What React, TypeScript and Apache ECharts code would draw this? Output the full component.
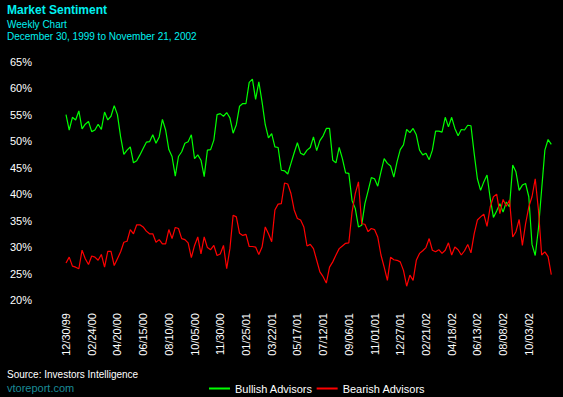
import React, { useEffect, useRef } from "react";
import * as echarts from "echarts";

const START_DATE = "1999-12-30";
const WEEKS = 152;

const bullish: number[] = [
  55.0, 52.1, 54.5, 54.0, 55.7, 52.3, 53.2, 53.7, 51.8, 52.1,
  53.2, 52.2, 55.5, 54.0, 54.7, 56.7, 55.0, 50.8, 47.5, 48.3,
  48.9, 45.9, 46.3, 47.4, 48.6, 49.8, 49.9, 51.2, 49.6, 50.8,
  54.1, 52.1, 48.4, 47.1, 43.4, 47.1, 48.0, 49.6, 49.9, 51.2,
  46.7, 47.4, 46.4, 43.3, 48.3, 48.4, 50.2, 55.0, 55.2, 54.7,
  55.4, 54.4, 51.5, 53.1, 56.6, 57.1, 57.1, 61.1, 61.7, 57.9,
  61.2, 57.4, 53.1, 50.6, 51.4, 48.9, 48.8, 44.5, 44.4, 43.8,
  45.8, 47.8, 49.7, 47.7, 47.4, 48.3, 48.8, 50.8, 48.2, 50.1,
  51.0, 52.4, 52.4, 46.4, 45.9, 48.8, 46.7, 44.0, 43.9, 38.8,
  37.3, 33.8, 34.1, 38.2, 40.6, 43.1, 42.9, 41.5, 44.2, 46.7,
  45.8, 45.3, 43.2, 46.1, 48.4, 49.3, 52.2, 51.6, 52.4, 51.2,
  48.3, 47.4, 47.7, 46.5, 48.3, 51.9, 51.9, 51.7, 54.5, 52.7,
  54.5, 52.4, 51.0, 52.2, 52.1, 53.0, 52.9, 47.7, 42.9, 40.7,
  42.3, 43.6, 39.2, 35.6, 36.8, 38.2, 36.6, 38.5, 37.6, 45.5,
  44.2, 40.7, 41.7, 42.0, 39.5, 30.5, 28.4, 33.5, 40.9, 48.3,
  50.3, 49.4,
];

const bearish: number[] = [
  27.0, 28.1, 26.4, 26.2, 25.9, 29.4, 27.8, 26.7, 28.3, 28.1,
  27.5, 28.6, 26.2, 29.2, 29.2, 26.5, 27.8, 29.1, 30.9, 31.1,
  33.3, 32.5, 34.2, 34.2, 33.8, 33.0, 32.5, 32.5, 30.9, 31.4,
  30.6, 30.6, 33.3, 31.6, 33.7, 33.5, 31.6, 31.4, 30.8, 28.0,
  30.3, 31.9, 28.7, 31.9, 29.9, 29.5, 30.3, 28.4, 28.7, 30.3,
  25.9, 29.7, 36.0, 35.7, 32.6, 32.2, 32.4, 30.1, 30.1, 30.0,
  28.6, 30.0, 33.8, 32.5, 31.0, 37.0, 38.1, 38.2, 42.1, 41.9,
  40.1, 37.0, 35.4, 35.1, 33.8, 30.2, 30.5, 29.7, 27.5, 25.3,
  24.4, 23.2, 26.2, 27.2, 28.5, 29.7, 30.2, 30.7, 30.8, 36.6,
  40.1, 42.3, 34.4, 34.3, 32.9, 33.5, 33.3, 31.9, 28.5, 26.2,
  23.7, 28.1, 27.6, 27.5, 27.2, 25.6, 22.6, 24.7, 23.7, 27.5,
  28.8, 29.3, 29.9, 31.6, 29.4, 29.1, 29.5, 28.8, 29.4, 30.8,
  28.5, 30.0, 29.5, 28.5, 29.3, 30.5, 28.9, 32.5, 35.1, 35.7,
  36.2, 33.9, 37.6, 39.5, 40.0, 36.3, 39.0, 37.7, 38.9, 31.9,
  32.9, 35.2, 30.3, 34.4, 37.6, 39.5, 42.9, 37.0, 28.5, 29.1,
  28.2, 24.8,
];

const yTicks = { min: 20, max: 65, interval: 5 };

function weekLabels(start: string, n: number): string[] {
  const base = new Date(start + "T00:00:00Z").getTime();
  const out: string[] = [];
  for (let i = 0; i < n; i++) {
    const d = new Date(base + i * 7 * 86400000);
    const mm = String(d.getUTCMonth() + 1).padStart(2, "0");
    const dd = String(d.getUTCDate()).padStart(2, "0");
    const yy = String(d.getUTCFullYear() % 100).padStart(2, "0");
    out.push(`${mm}/${dd}/${yy}`);
  }
  return out;
}

const categories = weekLabels(START_DATE, WEEKS);

export default function App() {
  const ref = useRef<HTMLDivElement>(null);
  useEffect(() => {
    document.body.style.margin = "0";
    document.body.style.background = "#000";
    const chart = echarts.init(ref.current!, null, { renderer: "svg" });
    const font = "Liberation Sans, Arial, sans-serif";
    chart.setOption({
      animation: false,
      backgroundColor: "#000000",
      grid: { left: 66, right: 11.7, top: 61.7, bottom: 97, containLabel: false },
      xAxis: {
        type: "category",
        data: categories,
        boundaryGap: false,
        axisLine: { show: false },
        axisTick: { show: false },
        splitLine: { show: false },
        axisLabel: {
          interval: 7,
          rotate: 90,
          margin: 13,
          color: "#ffffff",
          fontSize: 11,
          fontFamily: font,
        },
      },
      yAxis: {
        type: "value",
        min: yTicks.min,
        max: yTicks.max,
        interval: yTicks.interval,
        axisLine: { show: false },
        axisTick: { show: false },
        splitLine: { show: false },
        axisLabel: {
          formatter: "{value}%",
          margin: 34,
          color: "#ffffff",
          fontSize: 11,
          fontFamily: font,
        },
      },
      legend: {
        left: 204,
        top: 378,
        itemWidth: 21,
        itemHeight: 2,
        itemGap: 4,
        icon: "rect",
        textStyle: { color: "#ffffff", fontSize: 11, fontFamily: font },
        data: ["Bullish Advisors", "Bearish Advisors"],
      },
      graphic: [
        {
          type: "text",
          left: 7,
          top: 4,
          style: { text: "Market Sentiment", fill: "#00f0f0", font: `bold 12px ${font}` },
        },
        {
          type: "text",
          left: 7,
          top: 19,
          style: { text: "Weekly Chart", fill: "#00f0f0", font: `10px ${font}` },
        },
        {
          type: "text",
          left: 7,
          top: 31,
          style: { text: "December 30, 1999 to November 21, 2002", fill: "#00f0f0", font: `10px ${font}` },
        },
        {
          type: "text",
          left: 7,
          top: 369,
          style: { text: "Source: Investors Intelligence", fill: "#ffffff", font: `10px ${font}` },
        },
        {
          type: "text",
          left: 7,
          top: 382,
          style: { text: "vtoreport.com", fill: "#1a8a96", font: `11px ${font}` },
        },
      ],
      series: [
        {
          name: "Bullish Advisors",
          type: "line",
          data: bullish,
          showSymbol: false,
          symbol: "none",
          lineStyle: { color: "#00ff00", width: 1.2 },
          itemStyle: { color: "#00ff00" },
        },
        {
          name: "Bearish Advisors",
          type: "line",
          data: bearish,
          showSymbol: false,
          symbol: "none",
          lineStyle: { color: "#ff0000", width: 1.2 },
          itemStyle: { color: "#ff0000" },
        },
      ],
    });
    return () => chart.dispose();
  }, []);
  return (
    <div
      ref={ref}
      style={{ position: "fixed", left: 0, top: 0, width: 563, height: 397 }}
    />
  );
}
